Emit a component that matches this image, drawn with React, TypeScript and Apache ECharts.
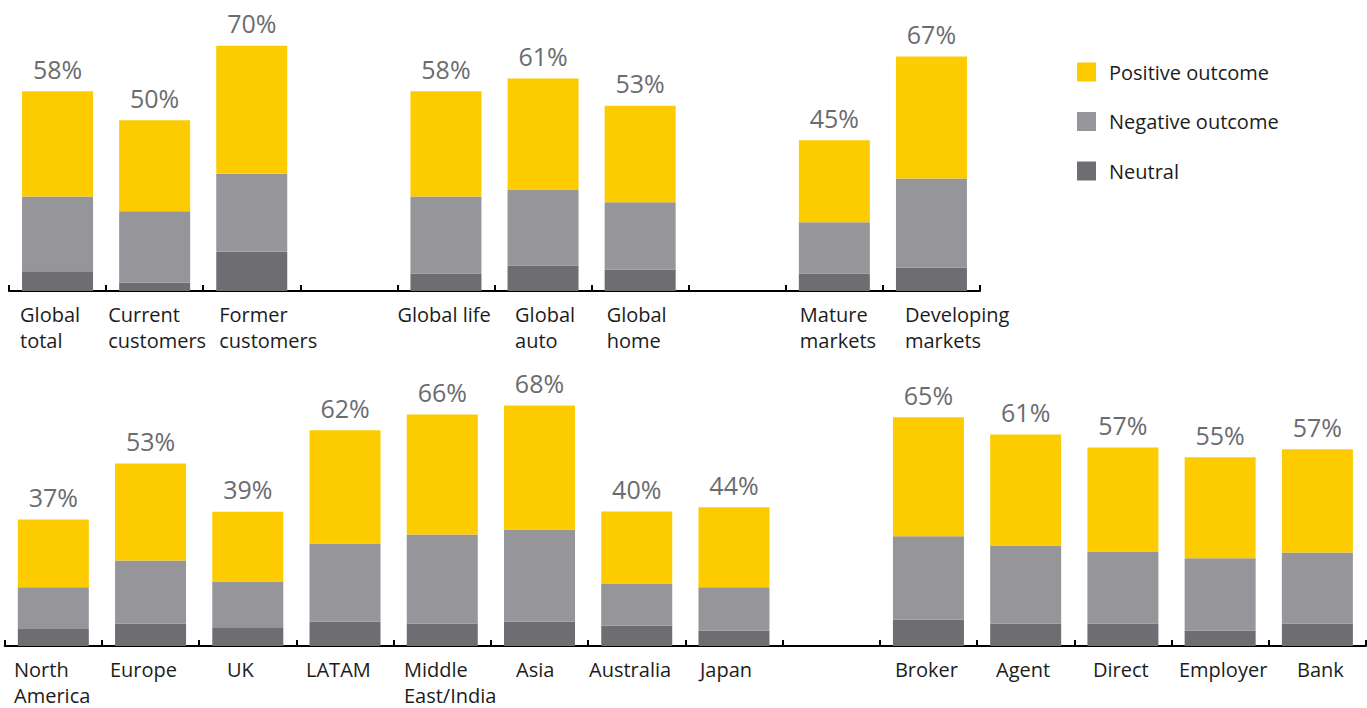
import React, { useEffect, useRef } from "react";
import * as echarts from "echarts";

// ---------- DATA ----------
const seriesNames = ["Positive outcome", "Negative outcome", "Neutral"];

const topCategories = [
  "Global\ntotal", "Current\ncustomers", "Former\ncustomers", "",
  "Global life", "Global\nauto", "Global\nhome", " ",
  "Mature\nmarkets", "Developing\nmarkets",
];
const topLabels = ["58%", "50%", "70%", "", "58%", "61%", "53%", "", "45%", "67%"];
const topNeutral = [5.7, 2.5, 11.4, "-", 5.1, 7.4, 6.2, "-", 5.1, 6.8];
const topNegative = [21.7, 20.6, 22.6, "-", 22.3, 22.0, 19.5, "-", 14.8, 25.8];
const topPositive = [30.5, 26.4, 37.1, "-", 30.5, 32.2, 28.0, "-", 23.8, 35.4];

const bottomCategories = [
  "North\nAmerica", "Europe", "UK", "LATAM", "Middle\nEast/India", "Asia",
  "Australia", "Japan", "", "Broker", "Agent", "Direct", "Employer", "Bank",
];
const bottomLabels = ["37%", "53%", "39%", "62%", "66%", "68%", "40%", "44%", "", "65%", "61%", "57%", "55%", "57%"];
const bottomNeutral = [4.9, 6.5, 5.4, 7.1, 6.5, 7.1, 5.9, 4.5, "-", 7.7, 6.5, 6.5, 4.5, 6.5];
const bottomNegative = [12.1, 18.3, 13.3, 22.6, 25.8, 26.7, 12.2, 12.5, "-", 24.1, 22.6, 20.9, 20.9, 20.6];
const bottomPositive = [19.7, 28.1, 20.2, 32.8, 34.8, 35.9, 20.9, 23.2, "-", 34.5, 32.2, 30.1, 29.3, 29.9];

// ---------- STYLE / LAYOUT ----------
const COLORS = { positive: "#FDCC00", negative: "#96969A", neutral: "#6E6E72" };
const FONT = "Open Sans";
const TEXT_COLOR = "#1c1c1c";
const PCT_COLOR = "#6B6C70";
// left offset of each category label from its band centre (px)
const topLabelOffsets = [37.5, 46.5, 32.5, 30, 48.5, 28, 33.5, 30, 34.5, 26.5];
const bottomLabelOffsets = [39.3, 40.6, 20.8, 39, 38.3, 23.5, 47.7, 34, 30, 33.5, 29.7, 29.9, 41.2, 20.4];

function makeRich(offsets: number[]) {
  const rich: Record<string, any> = {};
  offsets.forEach((o, i) => {
    rich["p" + i] = {
      width: o * 2,
      align: "left",
      fontSize: 20,
      lineHeight: 26,
      fontFamily: FONT,
      color: TEXT_COLOR,
    };
  });
  return rich;
}

function makeXAxis(gridIndex: number, cats: string[], offsets: number[]) {
  return {
    type: "category",
    gridIndex,
    data: cats,
    boundaryGap: true,
    axisLine: { show: true, lineStyle: { color: "#000", width: 2 } },
    axisTick: { show: true, inside: true, length: 6, lineStyle: { color: "#000", width: 2 } },
    axisLabel: {
      interval: 0,
      margin: 10,
      hideOverlap: false,
      formatter: (value: string, index: number) =>
        value.trim() === "" ? "" : value.split("\n").map((l) => `{p${index}|${l}}`).join("\n"),
      rich: makeRich(offsets),
    },
    splitLine: { show: false },
  };
}

function makeSeries(idx: number, neutral: any[], negative: any[], positive: any[], labels: string[]) {
  const common = {
    type: "bar",
    stack: "s" + idx,
    xAxisIndex: idx,
    yAxisIndex: idx,
    barWidth: 71,
  };
  return [
    { ...common, name: seriesNames[2], data: neutral, itemStyle: { color: COLORS.neutral } },
    { ...common, name: seriesNames[1], data: negative, itemStyle: { color: COLORS.negative } },
    {
      ...common,
      name: seriesNames[0],
      data: positive,
      itemStyle: { color: COLORS.positive },
      label: {
        show: true,
        position: "top",
        distance: 10,
        fontSize: 25,
        fontFamily: FONT,
        color: PCT_COLOR,
        formatter: (p: any) => labels[p.dataIndex] || "",
      },
    },
  ];
}

export default function App() {
  const ref = useRef<HTMLDivElement>(null);
  useEffect(() => {
    if (!ref.current) return;
    const chart = echarts.init(ref.current, undefined, { renderer: "svg" });
    chart.setOption({
      animation: false,
      backgroundColor: "#ffffff",
      textStyle: { fontFamily: FONT },
      legend: {
        orient: "vertical",
        left: 1077,
        top: 62,
        padding: 0,
        itemWidth: 19,
        itemHeight: 19,
        itemGap: 29.5,
        icon: "rect",
        data: seriesNames,
        selectedMode: false,
        textStyle: { fontSize: 20, fontFamily: FONT, color: TEXT_COLOR, padding: [0, 0, 0, 8] },
      },
      grid: [
        { left: 9, width: 971, top: 15, height: 276 },
        { left: 4.7, width: 1361.3, top: 370, height: 276 },
      ],
      xAxis: [
        makeXAxis(0, topCategories, topLabelOffsets),
        makeXAxis(1, bottomCategories, bottomLabelOffsets),
      ],
      yAxis: [
        { type: "value", gridIndex: 0, min: 0, max: 80, show: false, splitLine: { show: false } },
        { type: "value", gridIndex: 1, min: 0, max: 80, show: false, splitLine: { show: false } },
      ],
      series: [
        ...makeSeries(0, topNeutral, topNegative, topPositive, topLabels),
        ...makeSeries(1, bottomNeutral, bottomNegative, bottomPositive, bottomLabels),
      ],
    });
    return () => chart.dispose();
  }, []);
  return (
    <div
      ref={ref}
      style={{ position: "fixed", left: 0, top: 0, width: 1367, height: 708, background: "#fff" }}
    />
  );
}
